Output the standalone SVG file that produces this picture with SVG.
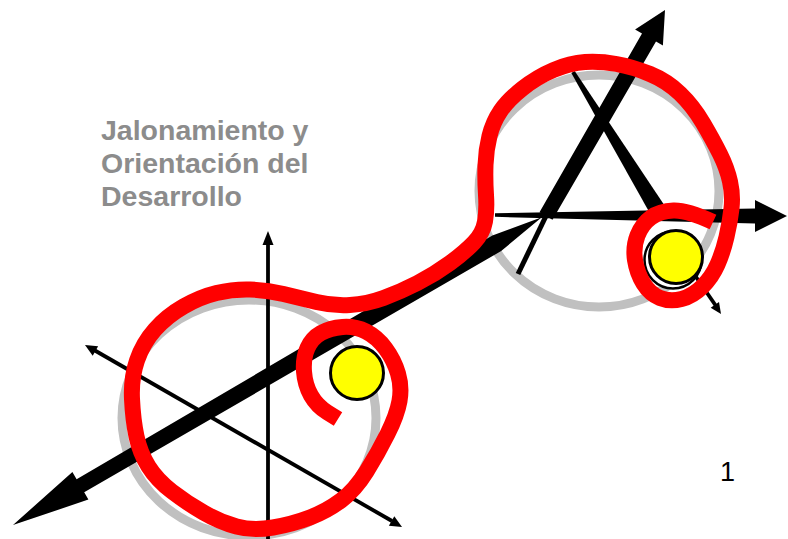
<svg xmlns="http://www.w3.org/2000/svg" width="788" height="539" viewBox="0 0 788 539">
<style>
.ring{fill:none;stroke:#c0c0c0;stroke-width:9}
.ax{fill:#000;stroke:none}
.thin{stroke:#000;stroke-width:3.8;fill:none}
.curve{fill:none;stroke:#ff0000;stroke-width:16;stroke-linecap:butt;stroke-linejoin:round}
.sun{fill:#ffff00;stroke:#000;stroke-width:3}
.title{font-family:"Liberation Sans",Arial,sans-serif;font-weight:bold;font-size:28.5px;fill:#8c8c8c}
.num{font-family:"Liberation Sans",Arial,sans-serif;font-size:27px;fill:#000}
</style>
<rect width="788" height="539" fill="#fff"/>
<g id="rings">
<ellipse class="ring" cx="249" cy="418" rx="127" ry="118"/>
<ellipse class="ring" cx="599" cy="191" rx="120" ry="116"/>
</g>
<g id="lower-axes">
<line class="thin" x1="268" y1="243" x2="268" y2="545"/>
<polygon class="ax" points="268,231 262.5,245 273.5,245"/>
<line class="thin" x1="94" y1="350" x2="392" y2="521"/>
<polygon class="ax" points="85,345 92.7,355.8 98.1,346.2"/>
<polygon class="ax" points="402,527 388.9,525.8 394.3,516.2"/>
<polygon class="ax" points="13,525 72.4,472 76.6,479.3 492.4,235.6 541.8,217.2 501.2,251 84.2,492.3 88.4,499.6"/>
</g>
<g id="upper-axes">
<polygon class="ax" points="495,213.2 755,208.5 755,200 787,216 755,232 755,223.5 495,216.8"/>
<line x1="546" y1="216" x2="518" y2="274" stroke="#000" stroke-width="5"/>
<polygon class="ax" points="539.5,212.3 642,33.6 635.1,29.6 665,9.9 662.9,45.6 656,41.6 552.5,219.8"/>
<polygon class="ax" points="574.7,71 666.4,208.2 652,217 571.3,73"/>
<line class="thin" x1="683" y1="258" x2="716" y2="306"/>
<polygon class="ax" points="721,314 719,302.1 710.7,307.7"/>
</g>
<g id="lower-dot">
<circle class="sun" cx="357" cy="373" r="26.5"/>
</g>
<g id="upper-dot">
<circle cx="673" cy="260" r="28.5" fill="#fff" stroke="#000" stroke-width="2.5"/>
<circle class="sun" cx="676" cy="257" r="26.5"/>
</g>
<g id="connectors">
<path class="curve" d="M 338 419 L 327.5 412.5 Q 317 406 311 395.5 Q 305 385 304 371.5 Q 303 358 307.5 348 Q 312 338 321 333 Q 330 328 342.5 327 Q 355 326 366 331.5 Q 377 337 385.5 348.5 Q 394 360 398 373.5 Q 402 387 399.5 401 Q 397 415 387.5 434 Q 378 453 366.5 471.5 Q 355 490 341 500.5 Q 327 511 310 517.5 Q 293 524 273 527.5 Q 253 531 236.5 526.5 Q 220 522 203.5 512.5 Q 187 503 172 491.5 Q 157 480 148.5 466.5 Q 140 453 136.5 436.5 Q 133 420 132 399 Q 131 378 137 360.5 Q 143 343 155 329.5 Q 167 316 183.5 306.5 Q 200 297 216.5 293 Q 233 289 250 289.5 Q 267 290 283.5 294 Q 300 298 316.5 302 Q 333 306 350 305 Q 367 304 383.5 298 Q 400 292 417.5 283 Q 435 274 450 263 Q 465 252 474 242.5 Q 483 233 485 221.5 Q 487 210 486 195 Q 485 180 485.5 165 Q 486 150 489.5 136 Q 493 122 500.5 111 Q 508 100 522.5 88.5 Q 537 77 553.5 70 Q 570 63 585 62 Q 600 61 616.5 64 Q 633 67 650 74 Q 667 81 680 93.5 Q 693 106 703 123 Q 713 140 720 154 Q 727 168 730 181.5 Q 733 195 731.5 208.5 Q 730 222 726.5 237 Q 723 252 717.5 264.5 Q 712 277 702.5 286.5 Q 693 296 681.5 299 Q 670 302 660 298 Q 650 294 643.5 283.5 Q 637 273 635 260 Q 633 247 637.5 235.5 Q 642 224 651 217.5 Q 660 211 673.5 210.5 Q 687 210 713 222"/>
</g>
<g id="title">
<text class="title" x="101" y="140">Jalonamiento y</text>
<text class="title" x="101" y="173">Orientación del</text>
<text class="title" x="101" y="206">Desarrollo</text>
</g>
<g id="page-number">
<text class="num" x="720" y="481">1</text>
</g>
</svg>
